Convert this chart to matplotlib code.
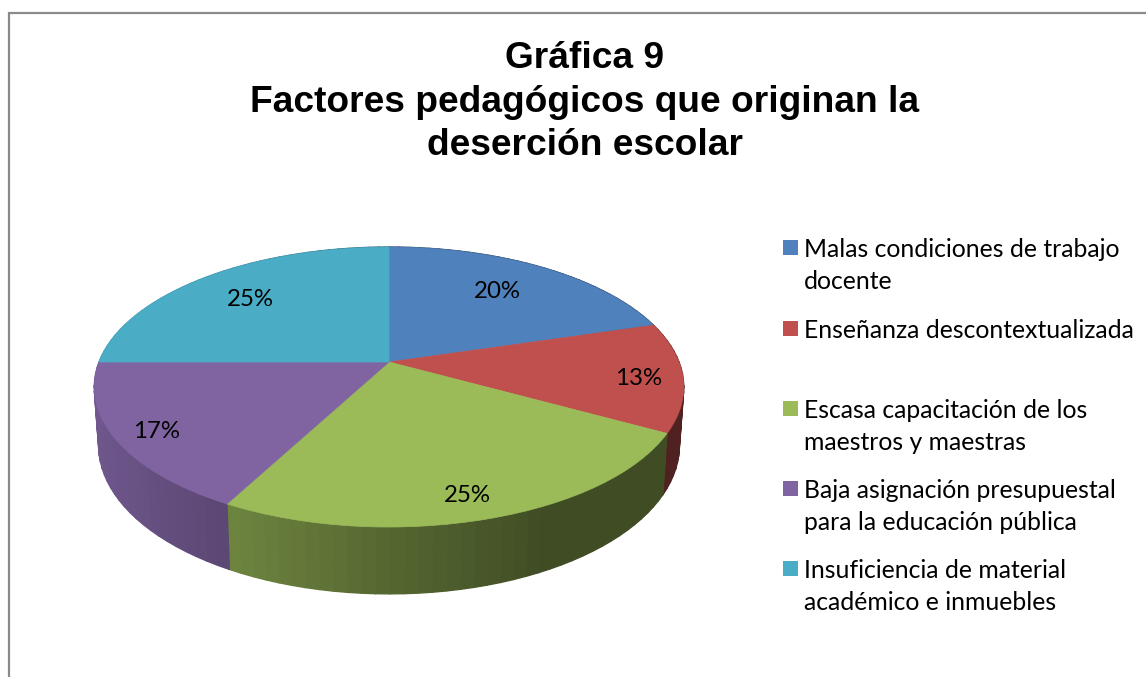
import numpy as np
import matplotlib
matplotlib.use("Agg")
import matplotlib.pyplot as plt
from matplotlib.collections import PolyCollection
from matplotlib.patches import Rectangle
from matplotlib.transforms import Transform

# data
categories = ["Malas condiciones de trabajo\ndocente",
              "Enseñanza descontextualizada",
              "Escasa capacitación de los\nmaestros y maestras",
              "Baja asignación presupuestal\npara la educación pública",
              "Insuficiencia de material\nacadémico e inmuebles"]
values = [20.4, 12.6, 24.8, 17.2, 25]
colors = ["#4F81BD", "#C0504D", "#9BBB59", "#8064A2", "#4BACC6"]
title_lines = ["Gráfica 9", "Factores pedagógicos que originan la", "deserción escolar"]

# layout in image pixels
W, H = 1146, 677
CX, CY = 389, 362
A, B, K = 290, 135.5, 0.1786   # perspective of the tilted disc
SX, SY, DEPTH = 0.985, 1.06, 57  # bottom disc relative to the top one
label_xy = [(497, 298), (639, 385), (467, 502), (157, 438), (250, 306)]
legend_y = [240, 321, 401, 481, 561]
shade_u = [-1, -0.55, 0, 0.45, 1]
shade_k = [0.88, 0.74, 0.55, 0.41, 0.41]


def project(xy):
    u, v = xy[:, 0], xy[:, 1]
    d = 1 + K * v
    return np.column_stack([CX + A * u / d, CY - B * v / d])


class Persp(Transform):
    input_dims = 2
    output_dims = 2

    def transform_non_affine(self, values):
        return project(np.asarray(values))


fig = plt.figure(figsize=(W / 100, H / 100), dpi=100)
ax = fig.add_axes([0, 0, 1, 1])
wedges, _, autotexts = ax.pie(values, colors=colors, startangle=90, counterclock=False,
                              autopct="%.0f%%", wedgeprops={"linewidth": 0.5})
ax.set_aspect("auto")
ax.set_xlim(0, W)
ax.set_ylim(H, 0)
ax.axis("off")

persp = Persp() + ax.transData
for w, c in zip(wedges, colors):
    w.set_transform(persp)
    w.set_edgecolor(c)
    w.set_zorder(2)

# side wall, bands like the stepped gradient of the original
edges = np.cumsum([0] + values) / sum(values) * 2 * np.pi
quads = []
quad_colors = []
for i in range(len(values)):
    t = np.linspace(edges[i], edges[i + 1], int(values[i] * 1.5) + 2)
    top = project(np.column_stack([np.sin(t), np.cos(t)]))
    low = np.column_stack([CX + (top[:, 0] - CX) * SX, CY + (top[:, 1] - CY) * SY + DEPTH])
    base = np.array(matplotlib.colors.to_rgb(colors[i]))
    for j in range(len(t) - 1):
        quads.append([top[j], top[j + 1], low[j + 1], low[j]])
        um = (np.sin(t[j]) + np.sin(t[j + 1])) / 2
        quad_colors.append(base * np.interp(um, shade_u, shade_k))
ax.add_collection(PolyCollection(quads, facecolors=quad_colors, edgecolors="face",
                                 linewidths=1, zorder=1))

for t, xy in zip(autotexts, label_xy):
    t.set_position(xy)
    t.set_ha("center")
    t.set_va("baseline")
    t.set_family("Lato")
    t.set_fontsize(17.3)
    t.set_color("black")
    t.set_zorder(3)

# chart area border, only top and left are in the image
ax.plot([8.5, 8.5, W], [H, 13, 13], color="#8a8a8a", lw=1.6, solid_joinstyle="miter")

for line, y in zip(title_lines, [68, 112, 155]):
    ax.text(585, y, line, ha="center", va="baseline", family="Liberation Sans",
            weight="bold", fontsize=26.7, color="black")

for cat, c, y in zip(categories, colors, legend_y):
    ax.add_patch(Rectangle((783, y), 15, 15, facecolor=c, edgecolor="none"))
    for n, line in enumerate(cat.split("\n")):
        ax.text(804, y + 17 + n * 32, line, ha="left", va="baseline", family="Lato",
                fontsize=17.8, color="black")

fig.savefig("out.png", dpi=100)
